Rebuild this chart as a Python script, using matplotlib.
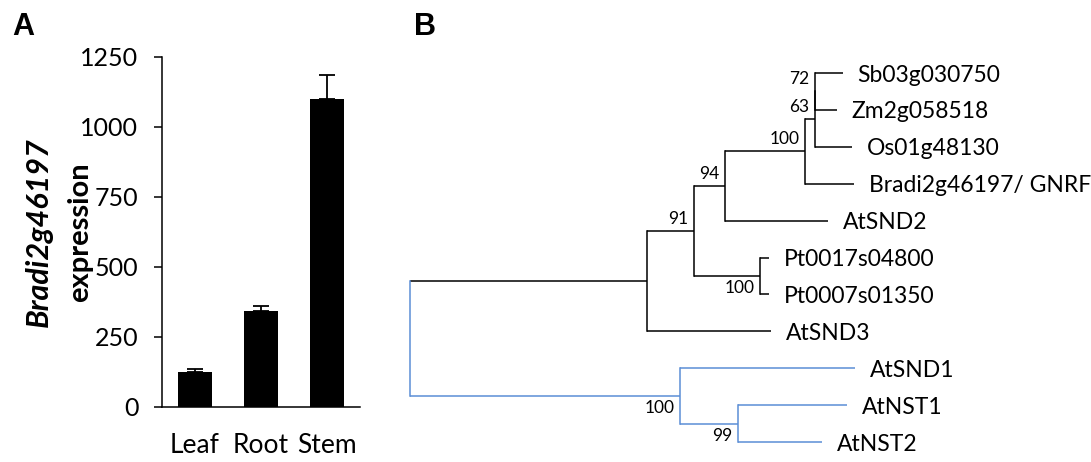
import matplotlib
matplotlib.use("Agg")
import matplotlib.pyplot as plt

plt.rcParams['font.family'] = ['Lato', 'DejaVu Sans']

# ---- panel A data ----
tissues = ['Leaf', 'Root', 'Stem']
expression = [125, 343, 1100]
expression_err = [11, 18, 86]
y_ticks = [0, 250, 500, 750, 1000, 1250]

# ---- panel B data (tree, top-to-bottom leaf order) ----
clade_names = ['root', 'c1', 'n91', 'n94', 'n100', 'n63', 'n72', 'nPt', 'c2', 'n99']
clade_parent = [None, 'root', 'c1', 'n91', 'n94', 'n100', 'n63', 'n91', 'root', 'c2']
clade_length = [0, 237, 47, 31, 80, 10, 0, 66, 270, 58]
clade_support = ['', '', '91', '94', '100', '63', '72', '100', '100', '99']
support_below = [False, False, False, False, False, False, False, True, True, True]

leaf_names = ['Sb03g030750', 'Zm2g058518', 'Os01g48130', 'Bradi2g46197/ GNRF', 'AtSND2',
              'Pt0017s04800', 'Pt0007s01350', 'AtSND3', 'AtSND1', 'AtNST1', 'AtNST2']
leaf_parent = ['n72', 'n72', 'n63', 'n100', 'n94', 'nPt', 'nPt', 'c1', 'c2', 'n99', 'n99']
leaf_length = [28, 22, 37, 49, 103, 9, 9, 124, 175, 109, 84]

highlight_clade = 'c2'
black = '#000000'
blue = '#5b8ed6'

W, H = 1091, 462
fig = plt.figure(figsize=(W / 100, H / 100), dpi=100)

# ---------------- Panel A: bar chart ----------------
ax = fig.add_axes([162 / W, 55 / H, 198 / W, 350 / H])
x = list(range(len(tissues)))
ax.bar(x, expression, width=0.53, color='black', zorder=2)
ax.errorbar(x, expression, yerr=[[0] * 3, expression_err], fmt='none',
            ecolor='black', elinewidth=1.3, capsize=5.5, capthick=1.3, zorder=1)
ax.set_xlim(-0.5, 2.5)
ax.set_ylim(0, 1250)
ax.set_yticks(y_ticks)
ax.set_xticks(x)
ax.set_xticklabels(tissues, fontsize=19)
ax.tick_params(axis='y', direction='out', length=6, width=1.1, pad=11, labelsize=18)
ax.tick_params(axis='x', length=0, pad=19)
for s in ['top', 'right']:
    ax.spines[s].set_visible(False)
for s in ['left', 'bottom']:
    ax.spines[s].set_linewidth(1.1)

ax.text(-0.62, 0.5, 'Bradi2g46197', transform=ax.transAxes, rotation=90,
        ha='center', va='center', fontsize=22, fontweight='bold', fontstyle='italic')
ax.text(-0.415, 0.5, 'expression', transform=ax.transAxes, rotation=90,
        ha='center', va='center', fontsize=21, fontweight='bold')

fig.text(12 / W, 1 - 35 / H, 'A', fontsize=22, fontweight='bold', family='Liberation Sans',
         va='baseline')
fig.text(414 / W, 1 - 35 / H, 'B', fontsize=22, fontweight='bold', family='Liberation Sans',
         va='baseline')

# ---------------- Panel B: tree ----------------
tree_w = 681
step = (442 - 73) / 10
top = 73 - step / 2
bottom = 442 + step / 2
tx = fig.add_axes([410 / W, (H - bottom) / H, tree_w / W, (bottom - top) / H])
tx.set_xlim(0, tree_w)
tx.set_ylim(len(leaf_names) - 0.5, -0.5)
tx.axis('off')

parent_of = dict(zip(clade_names, clade_parent))
parent_of.update(dict(zip(leaf_names, leaf_parent)))
length_of = dict(zip(clade_names, clade_length))
length_of.update(dict(zip(leaf_names, leaf_length)))

children = {n: [] for n in clade_names}
for name, p in zip(clade_names, clade_parent):
    if p is not None:
        children[p].append(name)
for name, p in zip(leaf_names, leaf_parent):
    children[p].append(name)


def depth(n):
    d = 0
    while n is not None:
        d += length_of[n]
        n = parent_of[n]
    return d


ypos = {n: i for i, n in enumerate(leaf_names)}


def node_y(n):
    if n in ypos:
        return ypos[n]
    ys = [node_y(c) for c in children[n]]
    ypos[n] = (min(ys) + max(ys)) / 2
    return ypos[n]


node_y('root')


def colour(n):
    while n is not None:
        if n == highlight_clade:
            return blue
        n = parent_of[n]
    return black


lw = 1.1
for n in clade_names + leaf_names:
    p = parent_of[n]
    if p is not None:
        tx.plot([depth(p), depth(n)], [ypos[n], ypos[n]], color=colour(n), lw=lw,
                solid_capstyle='butt', clip_on=False)
for n in clade_names:
    ys = [ypos[c] for c in children[n]]
    c = blue if n == 'root' else colour(n)
    tx.plot([depth(n), depth(n)], [min(ys), max(ys)], color=c, lw=lw,
            solid_capstyle='projecting', clip_on=False)

for n in leaf_names:
    tx.annotate(n, (depth(n), ypos[n]), xytext=(10.5, -1.5), textcoords='offset points',
                ha='left', va='center', fontsize=16.5)

for n, sup, below in zip(clade_names, clade_support, support_below):
    if not sup:
        continue
    tx.annotate(sup, (depth(n), ypos[n]), xytext=(-4, -3 if below else 3),
                textcoords='offset points', ha='right',
                va='top' if below else 'bottom', fontsize=12.5)

fig.savefig('out.png', dpi=100)
